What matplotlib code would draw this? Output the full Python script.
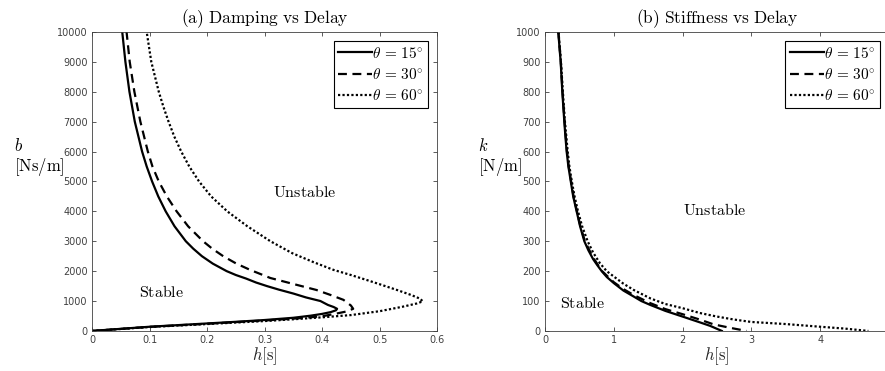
import matplotlib
matplotlib.use("Agg")
import matplotlib.pyplot as plt

plt.rcParams['mathtext.fontset'] = 'cm'
plt.rcParams['font.family'] = ['DejaVu Sans']

# (a) damping b [Ns/m] vs delay h [s]
h15_a = [0.0, 0.05, 0.10, 0.15, 0.20, 0.25, 0.30, 0.35, 0.38, 0.40, 0.415, 0.424, 0.426,
         0.42, 0.41, 0.397, 0.372, 0.35, 0.325, 0.304, 0.285, 0.268, 0.25, 0.234,
         0.21, 0.191, 0.176, 0.163, 0.1434, 0.128, 0.1151, 0.1044, 0.095, 0.087,
         0.0743, 0.065, 0.058, 0.0525]
b15_a = [0, 70, 140, 195, 250, 305, 365, 440, 510, 570, 630, 690, 740,
         800, 870, 1000, 1120, 1250, 1380, 1500, 1620, 1750, 1870, 2000,
         2250, 2500, 2750, 3000, 3500, 4000, 4500, 5000, 5500, 6000,
         7000, 8000, 9000, 10000]

h30_a = [0.0, 0.05, 0.10, 0.15, 0.20, 0.25, 0.30, 0.35, 0.40, 0.426, 0.442, 0.454,
         0.45, 0.437, 0.415, 0.39, 0.35, 0.31, 0.275, 0.251, 0.228, 0.209, 0.193,
         0.167, 0.147, 0.13, 0.116, 0.105, 0.097, 0.084, 0.0736, 0.0655, 0.060]
b30_a = [0, 68, 135, 188, 240, 295, 350, 410, 490, 585, 650, 740,
         850, 1040, 1200, 1370, 1570, 1770, 2040, 2250, 2500, 2750, 3000,
         3500, 4000, 4500, 5000, 5500, 6000, 7000, 8000, 9000, 10000]

h60_a = [0.0, 0.05, 0.10, 0.15, 0.20, 0.25, 0.30, 0.35, 0.40, 0.45, 0.50, 0.54, 0.565,
         0.575, 0.57, 0.555, 0.53, 0.505, 0.478, 0.45, 0.42, 0.385, 0.348, 0.31,
         0.27, 0.235, 0.207, 0.186, 0.169, 0.155, 0.143, 0.133, 0.124, 0.116,
         0.103, 0.095]
b60_a = [0, 65, 130, 180, 230, 280, 330, 390, 455, 530, 660, 810, 920,
         990, 1080, 1200, 1370, 1530, 1700, 1870, 2040, 2300, 2600, 3000,
         3500, 4000, 4500, 5000, 5500, 6000, 6500, 7000, 7500, 8000,
         9000, 10000]

# (b) stiffness k [N/m] vs delay h [s]
h15_b = [0.194, 0.21, 0.228, 0.24, 0.252, 0.266, 0.281, 0.297, 0.315, 0.34, 0.375,
         0.41, 0.46, 0.51, 0.572, 0.63, 0.70, 0.76, 0.824, 0.9, 1.0, 1.14, 1.29,
         1.4, 1.53, 1.75, 2.0, 2.26, 2.4, 2.57]
k15_b = [1000, 950, 900, 850, 800, 750, 700, 650, 600, 550, 500,
         450, 400, 350, 300, 270, 240, 220, 200, 180, 160, 135, 115,
         100, 87, 67, 48, 28, 17, 0]

h30_b = [0.195, 0.23, 0.255, 0.285, 0.32, 0.345, 0.38, 0.415, 0.465, 0.515, 0.58,
         0.70, 0.83, 1.0, 1.14, 1.29, 1.53, 1.75, 2.0, 2.25, 2.45, 2.7, 2.93]
k30_b = [1000, 900, 800, 700, 600, 550, 500, 450, 400, 350, 300,
         245, 200, 163, 140, 120, 93, 73, 56, 38, 22, 10, 0]

h60_b = [0.197, 0.232, 0.26, 0.29, 0.33, 0.355, 0.39, 0.43, 0.48, 0.54, 0.62,
         0.70, 0.80, 0.897, 1.0, 1.14, 1.29, 1.53, 1.75, 2.0, 2.25, 2.5, 2.75,
         3.0, 3.5, 4.0, 4.35, 4.7]
k60_b = [1000, 900, 800, 700, 600, 550, 500, 450, 400, 350, 300,
         262, 226, 200, 182, 158, 137, 109, 90, 76, 60, 48, 38,
         30, 23, 14, 8, 0]

labels = [r'$\theta\,=\,15^{\circ}$', r'$\theta\,=\,30^{\circ}$', r'$\theta\,=\,60^{\circ}$']
styles = ['-', (0, (4, 2.5)), (0, (1, 1))]

fig = plt.figure(figsize=(8.85, 3.71), dpi=100)
ax1 = fig.add_axes([0.104, 0.108, 0.390, 0.806])
ax2 = fig.add_axes([0.6158, 0.108, 0.3887, 0.806])

for h, v, lab, ls in zip([h15_a, h30_a, h60_a], [b15_a, b30_a, b60_a], labels, styles):
    ax1.plot(h, v, color='black', linestyle=ls, linewidth=1.6, label=lab)
for h, v, lab, ls in zip([h15_b, h30_b, h60_b], [k15_b, k30_b, k60_b], labels, styles):
    ax2.plot(h, v, color='black', linestyle=ls, linewidth=1.6, label=lab)

ax1.set_xlim(0, 0.6)
ax1.set_ylim(0, 10000)
ax1.set_xticks([0, 0.1, 0.2, 0.3, 0.4, 0.5, 0.6])
ax1.set_xticklabels(['0', '0.1', '0.2', '0.3', '0.4', '0.5', '0.6'])
ax1.set_yticks(range(0, 10001, 1000))

ax2.set_xlim(0, 5)
ax2.set_ylim(0, 1000)
ax2.set_xticks([0, 1, 2, 3, 4])
ax2.set_yticks(range(0, 1001, 100))

for ax in (ax1, ax2):
    ax.tick_params(direction='in', top=True, right=True, length=3, width=0.6,
                   labelsize=7, colors='#404040', pad=3)
    for s in ax.spines.values():
        s.set_color('#404040')
        s.set_linewidth(0.6)
    ax.set_xlabel(r'$h[\mathrm{s}]$', fontsize=12, color='#262626', labelpad=0)
    leg = ax.legend(loc='upper right', fontsize=11, handlelength=2.2, handletextpad=0.0,
                    borderpad=0.3, labelspacing=0.42, borderaxespad=0.6,
                    fancybox=False, framealpha=1)
    leg.get_frame().set_edgecolor('black')
    leg.get_frame().set_linewidth(0.8)

ax1.set_title(r'$\mathrm{(a)\ Damping\ vs\ Delay}$', fontsize=12.5, pad=6)
ax2.set_title(r'$\mathrm{(b)\ Stiffness\ vs\ Delay}$', fontsize=12.5, pad=6)

ax1.text(-0.226, 0.589, '$b$', transform=ax1.transAxes, fontsize=12, ha='left', va='bottom')
ax1.text(-0.226, 0.585, r'$[\mathrm{Ns/m}]$', transform=ax1.transAxes, fontsize=12,
         ha='left', va='top')
ax2.text(-0.195, 0.589, '$k$', transform=ax2.transAxes, fontsize=12, ha='left', va='bottom')
ax2.text(-0.196, 0.585, r'$[\mathrm{N/m}]$', transform=ax2.transAxes, fontsize=12,
         ha='left', va='top')

ax1.text(0.369, 4650, r'$\mathrm{Unstable}$', fontsize=11.5, ha='center', va='center')
ax1.text(0.12, 1300, r'$\mathrm{Stable}$', fontsize=11.5, ha='center', va='center')
ax2.text(2.47, 405, r'$\mathrm{Unstable}$', fontsize=11.5, ha='center', va='center')
ax2.text(0.54, 94, r'$\mathrm{Stable}$', fontsize=11.5, ha='center', va='center')

fig.savefig('out.png', dpi=100)
